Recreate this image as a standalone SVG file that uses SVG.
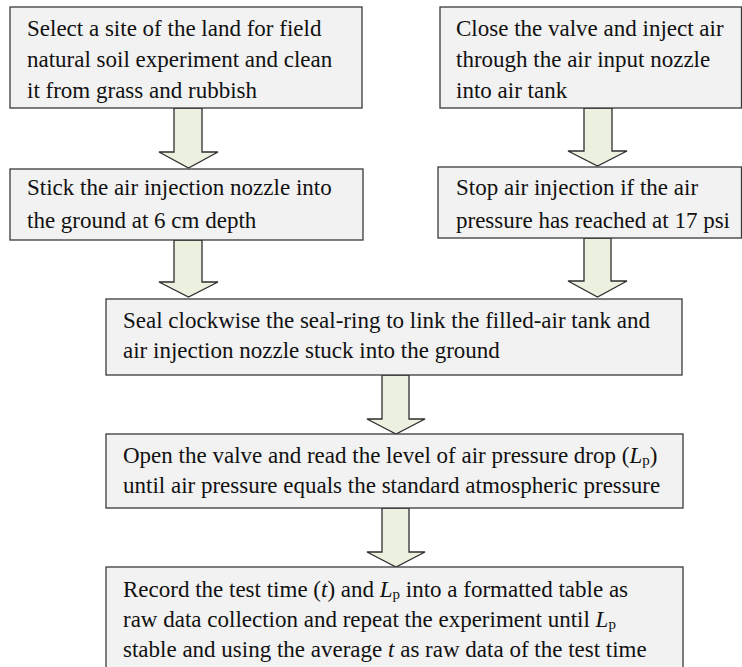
<svg xmlns="http://www.w3.org/2000/svg" width="742" height="667" viewBox="0 0 742 667">
<style>
.box{fill:#f2f2f2;stroke:#3a3a3a;stroke-width:1.3}
.arr{fill:#ebf1de;stroke:#2e2e2e;stroke-width:1.3;stroke-linejoin:miter}
text{font-family:"Liberation Serif","Times New Roman",serif;font-size:23px;fill:#111}
.i{font-style:italic}
.sub{font-size:15px}
</style>
<rect width="742" height="667" fill="#fff"/>
<g id="connectors">
<path class="arr" d="M174,108 H202 V152 H218 L188.5,168 L159,152 H174 Z"/>
<path class="arr" d="M584,108 H612 V151 H627 L597.5,166 L568,151 H584 Z"/>
<path class="arr" d="M174,240 H202 V282 H218 L188.5,297 L159,282 H174 Z"/>
<path class="arr" d="M584,238 H611 V281 H627 L597.5,297 L568,281 H584 Z"/>
<path class="arr" d="M382,375 H409 V419 H425 L396,434 L367,419 H382 Z"/>
<path class="arr" d="M382,508 H409 V552 H425 L396,567 L367,552 H382 Z"/>
</g>
<g id="n1">
<rect class="box" x="10" y="7" width="352" height="101"/>
<text x="27" y="36">Select a site of the land for field</text>
<text x="27" y="67">natural soil experiment and clean</text>
<text x="27" y="98">it from grass and rubbish</text>
</g>
<g id="n2">
<rect class="box" x="440" y="7" width="301.5" height="101"/>
<text x="456" y="36">Close the valve and inject air</text>
<text x="456" y="67">through the air input nozzle</text>
<text x="456" y="98">into air tank</text>
</g>
<g id="n3">
<rect class="box" x="10" y="169" width="353" height="71"/>
<text x="27" y="195">Stick the air injection nozzle into</text>
<text x="27" y="228">the ground at 6 cm depth</text>
</g>
<g id="n4">
<rect class="box" x="438" y="167" width="303.5" height="71"/>
<text x="456" y="195">Stop air injection if the air</text>
<text x="456" y="228">pressure has reached at 17 psi</text>
</g>
<g id="n5">
<rect class="box" x="106" y="299" width="576" height="76"/>
<text x="123" y="328">Seal clockwise the seal-ring to link the filled-air tank and</text>
<text x="123" y="358">air injection nozzle stuck into the ground</text>
</g>
<g id="n6">
<rect class="box" x="106" y="434" width="577" height="74"/>
<text x="123" y="463">Open the valve and read the level of air pressure drop (<tspan class="i">L</tspan><tspan class="sub" dy="2">p</tspan><tspan dy="-2">)</tspan></text>
<text x="123" y="493">until air pressure equals the standard atmospheric pressure</text>
</g>
<g id="n7">
<rect class="box" x="106" y="567" width="577" height="120"/>
<text x="123" y="597">Record the test time (<tspan class="i">t</tspan>) and <tspan class="i">L</tspan><tspan class="sub" dy="2">p</tspan><tspan dy="-2"> into a formatted table as</tspan></text>
<text x="123" y="627">raw data collection and repeat the experiment until <tspan class="i">L</tspan><tspan class="sub" dy="2">p</tspan></text>
<text x="123" y="657">stable and using the average <tspan class="i">t</tspan> as raw data of the test time</text>
</g>
</svg>
